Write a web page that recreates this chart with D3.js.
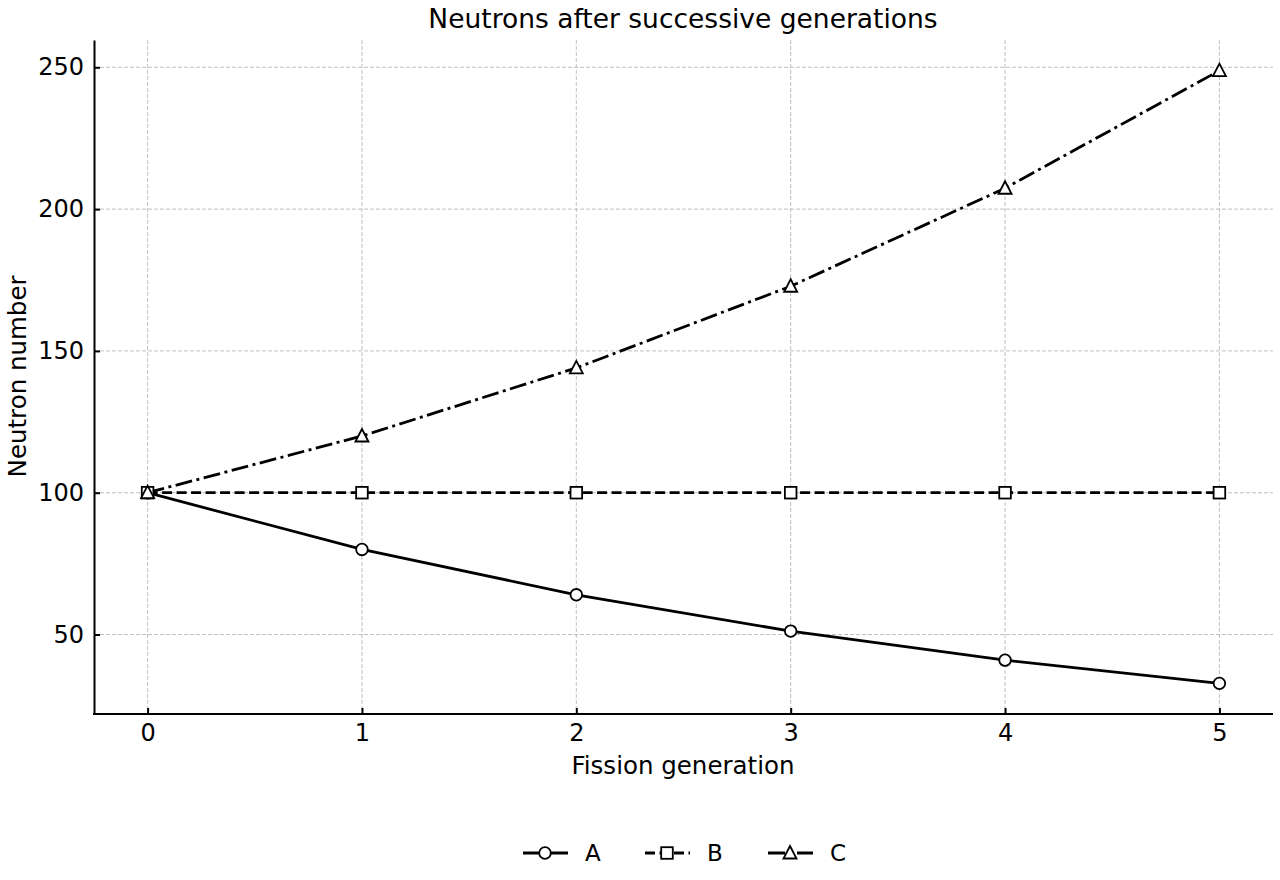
<!DOCTYPE html>
<html>
<head>
<meta charset="utf-8">
<script src="https://cdn.jsdelivr.net/npm/d3@7"></script>
<style>
  body { margin: 0; background: #fff; }
  text { font-family: "DejaVu Sans", sans-serif; }
</style>
</head>
<body>
<div id="chart"></div>
<script>
// data
var generations = [0, 1, 2, 3, 4, 5];
var seriesA = [100, 80, 64, 51.2, 40.96, 32.77];
var seriesB = [100, 100, 100, 100, 100, 100];
var seriesC = [100, 120, 144, 172.8, 207.36, 248.83];
var xTicks = [0, 1, 2, 3, 4, 5];
var yTicks = [50, 100, 150, 200, 250];

var width = 1280, height = 880;
var margin = {left: 94, right: 7, top: 40, bottom: 166};

var svg = d3.select("#chart").append("svg")
	.attr("width", width)
	.attr("height", height);

var x = d3.scaleLinear().domain([-0.25, 5.25]).range([margin.left, width - margin.right]);
var y = d3.scaleLinear().domain([21.97, 259.63]).range([height - margin.bottom, margin.top]);

// grid
svg.append("g").selectAll("line").data(xTicks).enter().append("line")
	.attr("x1", d => x(d)).attr("x2", d => x(d))
	.attr("y1", margin.top).attr("y2", height - margin.bottom)
	.attr("stroke", "#b0b0b0").attr("stroke-width", 0.8).attr("stroke-dasharray", "4,2");
svg.append("g").selectAll("line").data(yTicks).enter().append("line")
	.attr("y1", d => y(d)).attr("y2", d => y(d))
	.attr("x1", margin.left).attr("x2", width - margin.right)
	.attr("stroke", "#b0b0b0").attr("stroke-width", 0.8).attr("stroke-dasharray", "4,2");

// axes (ticks inward)
var xAxis = svg.append("g")
	.attr("transform", "translate(0," + (height - margin.bottom) + ")")
	.call(d3.axisBottom(x).tickValues(xTicks).tickFormat(d3.format("d")).tickSizeInner(-6).tickSizeOuter(0).tickPadding(10));
var yAxis = svg.append("g")
	.attr("transform", "translate(" + margin.left + ",0)")
	.call(d3.axisLeft(y).tickValues(yTicks).tickFormat(d3.format("d")).tickSizeInner(-6).tickSizeOuter(0).tickPadding(10));

[xAxis, yAxis].forEach(function(a){
	a.attr("font-size", null).attr("font-family", null);
	a.select(".domain").attr("stroke", "#000").attr("stroke-width", 2);
	a.selectAll(".tick line").attr("stroke", "#000").attr("stroke-width", 2);
	a.selectAll(".tick text").style("font-size", "24px").attr("fill", "#000")
		.style("font-family", "'DejaVu Sans', sans-serif");
});
// extend x domain to the y axis line
xAxis.select(".domain").attr("d", "M" + (margin.left - 1) + ",0H" + (width - margin.right));

// titles
svg.append("text").attr("x", 683).attr("y", 28).attr("text-anchor", "middle")
	.style("font-size", "26.5px").text("Neutrons after successive generations");
svg.append("text").attr("x", 683).attr("y", 774).attr("text-anchor", "middle")
	.style("font-size", "24.5px").text("Fission generation");
svg.append("text").attr("transform", "translate(26," + y(141) + ") rotate(-90)")
	.attr("text-anchor", "middle").style("font-size", "24.5px").text("Neutron number");

var series = [
	{name: "A", values: seriesA, dash: null, marker: "circle"},
	{name: "B", values: seriesB, dash: "10,4.5", marker: "square"},
	{name: "C", values: seriesC, dash: "17,4.5,3,4.5", marker: "triangle"}
];

var line = d3.line().x((d, i) => x(generations[i])).y(d => y(d));

function drawMarker(g, type, cx, cy) {
	if (type === "circle") {
		g.append("circle").attr("cx", cx).attr("cy", cy).attr("r", 5.8)
			.attr("fill", "#fff").attr("stroke", "#000").attr("stroke-width", 1.8);
	} else if (type === "square") {
		g.append("rect").attr("x", cx - 5.8).attr("y", cy - 5.8).attr("width", 11.6).attr("height", 11.6)
			.attr("fill", "#fff").attr("stroke", "#000").attr("stroke-width", 1.8);
	} else {
		g.append("path").attr("d", "M" + cx + "," + (cy - 7) + "L" + (cx + 6.5) + "," + (cy + 5.5) + "L" + (cx - 6.5) + "," + (cy + 5.5) + "Z")
			.attr("fill", "#fff").attr("stroke", "#000").attr("stroke-width", 1.8);
	}
}

series.forEach(function(s){
	svg.append("path").datum(s.values)
		.attr("d", line)
		.attr("fill", "none").attr("stroke", "#000").attr("stroke-width", 2.8)
		.attr("stroke-dasharray", s.dash);
});
series.forEach(function(s){
	var g = svg.append("g");
	s.values.forEach(function(v, i){ drawMarker(g, s.marker, x(generations[i]), y(v)); });
});

// legend
var legendX = [523, 645, 768];
series.forEach(function(s, i){
	var g = svg.append("g");
	var lx = legendX[i], ly = 853;
	g.append("line").attr("x1", lx).attr("x2", lx + 45).attr("y1", ly).attr("y2", ly)
		.attr("stroke", "#000").attr("stroke-width", 2.8).attr("stroke-dasharray", s.dash);
	drawMarker(g, s.marker, lx + 22, ly);
	g.append("text").attr("x", lx + 62).attr("y", ly + 8).style("font-size", "23px").text(s.name);
});
</script>
</body>
</html>
